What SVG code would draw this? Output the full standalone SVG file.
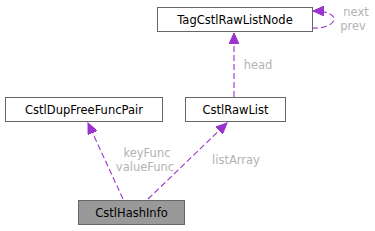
<svg xmlns="http://www.w3.org/2000/svg" width="375" height="231" viewBox="0 0 375 231">
<defs>
<style>
.node rect{fill:#ffffff;stroke:#666666;stroke-width:1}
#n_hash rect{fill:#999999}
.node text{font-family:"DejaVu Sans",sans-serif;font-size:11.5px;fill:#000000;text-anchor:middle}
.edge{fill:none;stroke:#9a32cd;stroke-width:1.1;stroke-dasharray:6,3}
.lbl{font-family:"DejaVu Sans",sans-serif;font-size:11.5px;fill:#b3b3b3;text-anchor:middle}
</style>
<marker id="ah" markerWidth="12" markerHeight="10" refX="11" refY="5" orient="auto" markerUnits="userSpaceOnUse">
<path d="M0,0 L11,5 L0,10 Z" fill="#9a32cd" stroke="#9a32cd"/>
</marker>
</defs>
<rect width="375" height="231" fill="#ffffff"/>
<g id="connectors">
<path class="edge" d="M123,199 L88,123" marker-end="url(#ah)"/>
<path class="edge" d="M148,199 L227,123" marker-end="url(#ah)"/>
<path class="edge" d="M234,97 L234,33" marker-end="url(#ah)"/>
<path class="edge" d="M312,28 C322,29 334,25 334,19 C334,14 326,11 313,11" marker-end="url(#ah)"/>
<text class="lbl" x="147" y="157">keyFunc</text>
<text class="lbl" x="145" y="171">valueFunc</text>
<text class="lbl" x="236" y="164">listArray</text>
<text class="lbl" x="258" y="69">head</text>
<text class="lbl" x="356" y="16">next</text>
<text class="lbl" x="353" y="30">prev</text>
</g>
<g id="n_hash" class="node">
<rect x="78.5" y="200.5" width="106" height="24"/>
<text x="131.5" y="217">CstlHashInfo</text>
</g>
<g id="n_dup" class="node">
<rect x="5.5" y="97.5" width="157" height="24"/>
<text x="84" y="114">CstlDupFreeFuncPair</text>
</g>
<g id="n_rawlist" class="node">
<rect x="185.5" y="97.5" width="100" height="24"/>
<text x="235.5" y="114">CstlRawList</text>
</g>
<g id="n_node" class="node">
<rect x="157.5" y="7.5" width="155" height="24"/>
<text x="235" y="24">TagCstlRawListNode</text>
</g>
</svg>
